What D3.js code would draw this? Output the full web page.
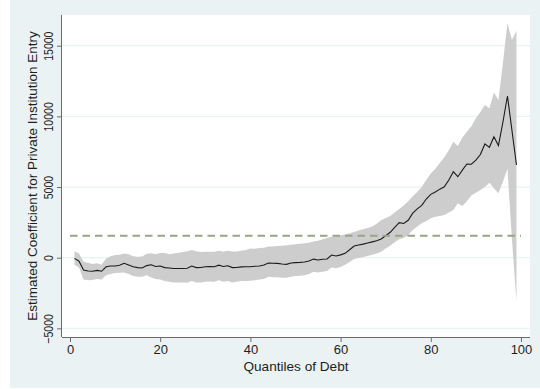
<!DOCTYPE html>
<html>
<head>
<meta charset="utf-8">
<script src="https://cdn.jsdelivr.net/npm/d3@7"></script>
<style>
  html, body { margin: 0; padding: 0; background: #ffffff; }
  svg { display: block; }
  text { font-family: "Liberation Sans", Arial, sans-serif; fill: #1e1e1e; }
</style>
</head>
<body>
<svg id="chart" width="540" height="389"></svg>
<script>
// Quantiles of debt (1..99)
const quantiles = d3.range(1, 100);

// Point estimates of the coefficient for private institution entry
const estimate = [
  -50, -250, -870, -940, -960, -900, -960, -640, -590, -590,
  -540, -400, -520, -640, -700, -730, -560, -500, -620, -590,
  -700, -730, -760, -760, -760, -750, -590, -700, -690, -640,
  -620, -640, -530, -620, -570, -700, -690, -650, -640, -640,
  -610, -590, -520, -380, -390, -400, -450, -470, -380, -350,
  -330, -300, -230, -100, -160, -110, -90, 190, 120, 200,
  310, 560, 830, 900, 960, 1040, 1120, 1200, 1320, 1550,
  1800, 2150, 2480, 2420, 2650, 3150, 3450, 3700, 4150, 4480,
  4650, 4850, 5020, 5500, 6090, 5730, 6200, 6630, 6610, 6900,
  7300, 8050, 7810, 8560, 7930, 9600, 11440, 9000, 6560
];

// Upper bound of the confidence interval
const upper = [
  430, 300, -280, -350, -450, -400, -500, -50, 100, 190,
  200, 300, 250, 100, 70, 80, 280, 320, 250, 330,
  330, 250, 300, 350, 400, 450, 550, 450, 400, 420,
  420, 420, 500, 420, 500, 430, 430, 500, 550, 650,
  640, 680, 700, 800, 800, 820, 850, 880, 920, 950,
  980, 1020, 1060, 1150, 1200, 1300, 1400, 1480, 1520, 1580,
  1650, 1730, 1820, 1920, 2010, 2110, 2200, 2400, 2650, 2800,
  2950, 3200, 3450, 3700, 4000, 4350, 4650, 5000, 5500, 5950,
  6300, 6700, 7100, 7600, 8210, 7900, 8500, 8920, 9300, 9870,
  10300, 10810, 10570, 11680, 11160, 13800, 16590, 15410, 16060
];

// Lower bound of the confidence interval
const lower = [
  -500, -700, -1550, -1600, -1580, -1500, -1550, -1250, -1150, -1080,
  -1060, -1050, -1150, -1300, -1350, -1350, -1250, -1400, -1500, -1550,
  -1650, -1700, -1750, -1750, -1750, -1770, -1650, -1750, -1750, -1700,
  -1680, -1700, -1600, -1700, -1650, -1750, -1700, -1650, -1650, -1630,
  -1600, -1550, -1500, -1350, -1380, -1380, -1420, -1420, -1350, -1300,
  -1280, -1250, -1150, -1000, -1050, -1000, -950, -700, -750, -650,
  -500, -300, -100, -20, 50, 120, 200, 300, 420, 650,
  850, 1100, 1300, 1400, 1600, 1960, 2200, 2430, 2600, 2790,
  2900, 2950, 3020, 3200, 3380, 3850, 3650, 4000, 4400, 4600,
  4790, 5000, 5300, 4910, 4560, 5380, 6300, 1300, -3100
];

// Reference level (horizontal dashed line)
const referenceLevel = 1550;

const xTicks = [0, 20, 40, 60, 80, 100];
const yTicks = [-5000, 0, 5000, 10000, 15000];

const xTitle = "Quantiles of Debt";
const yTitle = "Estimated Coefficient for Private Institution Entry";

const svg = d3.select("#chart");

// Outer graph region and white plot region
svg.append("rect").attr("x", 10).attr("y", 0).attr("width", 530).attr("height", 388)
  .attr("fill", "#eaf2f3");

const plot = { left: 62, right: 530, top: 15, bottom: 337 };
svg.append("rect")
  .attr("x", plot.left).attr("y", plot.top)
  .attr("width", plot.right - plot.left).attr("height", plot.bottom - plot.top)
  .attr("fill", "#ffffff");

const x = d3.scaleLinear().domain([-1.774, 102]).range([plot.left, plot.right]);
const y = d3.scaleLinear().domain([-5611, 17172]).range([plot.bottom, plot.top]);

// Horizontal grid lines
svg.append("g").selectAll("line").data(yTicks).join("line")
  .attr("x1", plot.left).attr("x2", plot.right)
  .attr("y1", d => y(d)).attr("y2", d => y(d))
  .attr("stroke", "#eaf2f3").attr("stroke-width", 1.2);

const rows = quantiles.map((q, i) => ({ q, est: estimate[i], lo: lower[i], hi: upper[i] }));

// Confidence band
svg.append("path").datum(rows)
  .attr("d", d3.area().x(d => x(d.q)).y0(d => y(d.lo)).y1(d => y(d.hi)))
  .attr("fill", "#cdcdcd");

// Point estimate line
svg.append("path").datum(rows)
  .attr("d", d3.line().x(d => x(d.q)).y(d => y(d.est)))
  .attr("fill", "none").attr("stroke", "#1a1a1a").attr("stroke-width", 1.1);

// Dashed reference line
svg.append("line")
  .attr("x1", x(0)).attr("x2", x(100))
  .attr("y1", y(referenceLevel)).attr("y2", y(referenceLevel))
  .attr("stroke", "#96a783").attr("stroke-width", 2)
  .attr("stroke-dasharray", "7.5,5");

// Axes
const xAxis = d3.axisBottom(x).tickValues(xTicks).tickSize(5).tickPadding(3)
  .tickFormat(d3.format("d"));
const gx = svg.append("g").attr("transform", `translate(0,${plot.bottom})`).call(xAxis);
gx.select(".domain").attr("d", `M${plot.left},0.5H${plot.right}`).attr("stroke", "#6b6b6b");
gx.selectAll(".tick line").attr("stroke", "#6b6b6b");
gx.selectAll(".tick text").attr("font-size", 13).attr("fill", "#1e1e1e")
  .attr("font-family", "Liberation Sans, Arial, sans-serif");

const yAxis = d3.axisLeft(y).tickValues(yTicks).tickSize(5).tickFormat(d3.format("d"));
const gy = svg.append("g").attr("transform", `translate(${plot.left},0)`).call(yAxis);
gy.select(".domain").attr("d", `M-0.5,${plot.top}V${plot.bottom}`).attr("stroke", "#6b6b6b");
gy.selectAll(".tick line").attr("stroke", "#6b6b6b");
gy.selectAll(".tick text")
  .attr("font-size", 13).attr("fill", "#1e1e1e")
  .attr("font-family", "Liberation Sans, Arial, sans-serif")
  .attr("text-anchor", "middle")
  .attr("x", null).attr("dy", null)
  .attr("transform", "translate(-9.5,0) rotate(-90) scale(0.81,1)");

// Axis titles
svg.append("text")
  .attr("x", (plot.left + plot.right) / 2).attr("y", 371)
  .attr("text-anchor", "middle").attr("font-size", 13.6)
  .text(xTitle);

svg.append("text")
  .attr("transform", `translate(36.7,${(plot.top + plot.bottom) / 2}) rotate(-90)`)
  .attr("text-anchor", "middle").attr("font-size", 13.5)
  .text(yTitle);
</script>
</body>
</html>
